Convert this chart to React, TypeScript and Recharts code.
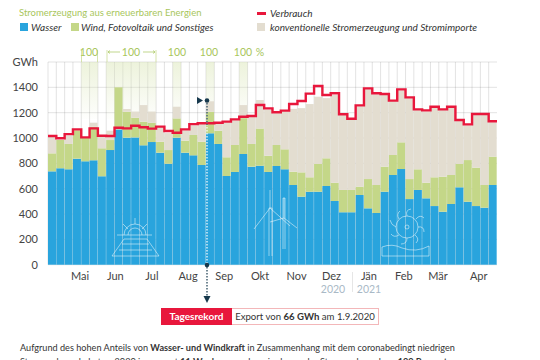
import {
  ComposedChart,
  Bar,
  Line,
  XAxis,
  YAxis,
  CartesianGrid,
  ReferenceArea,
} from 'recharts'

// weekly values in GWh, Apr 2020 - Apr 2021
const wasser = [737, 761, 753, 837, 816, 824, 698, 905, 1068, 1003, 1005, 942, 968, 884, 797, 1003, 884, 863, 787, 1037, 953, 700, 732, 874, 774, 782, 732, 779, 753, 629, 537, 576, 576, 621, 503, 414, 414, 550, 445, 408, 576, 708, 755, 518, 590, 524, 463, 418, 479, 611, 497, 463, 450, 629]
const wind = [142, 223, 200, 223, 184, 265, 221, 79, 332, 204, 155, 187, 152, 87, 108, 152, 95, 161, 184, 170, 105, 148, 213, 283, 179, 294, 128, 166, 158, 105, 192, 114, 219, 219, 144, 176, 176, 66, 231, 221, 198, 158, 211, 158, 163, 123, 227, 277, 229, 184, 329, 303, 179, 224]
const konventionell = [137, 1, 67, 0, 0, 32, 101, 74, 0, 22, 49, 131, 89, 119, 134, 92, 81, 76, 139, 83, 57, 277, 195, 103, 217, 224, 365, 250, 299, 496, 507, 578, 531, 475, 693, 590, 555, 634, 709, 716, 571, 424, 409, 639, 467, 563, 550, 525, 532, 340, 274, 416, 553, 272]
const verbrauch = [1016, 998, 1031, 1068, 1005, 1076, 1018, 1016, 1081, 1076, 1097, 1085, 1074, 1090, 1055, 1042, 1068, 1110, 1116, 1116, 1121, 1129, 1147, 1168, 1174, 1260, 1234, 1203, 1216, 1268, 1292, 1350, 1410, 1339, 1353, 1187, 1152, 1258, 1392, 1353, 1347, 1295, 1384, 1321, 1226, 1218, 1247, 1226, 1247, 1142, 1108, 1189, 1189, 1132]

const monthNames = ['Mai', 'Jun', 'Jul', 'Aug', 'Sep', 'Okt', 'Nov', 'Dez', 'Jän', 'Feb', 'Mär', 'Apr']
const monthCentres = [3.85, 8.1, 12.5, 16.85, 21.2, 25.5, 29.9, 34.1, 38.6, 42.8, 46.9, 51.8]
const monthStarts = [1.56, 5.98, 10.2, 14.7, 19.1, 23.4, 27.8, 32.1, 36.6, 40.9, 45, 49.4, 53.8]
const yTicks = [0, 200, 400, 600, 800, 1000, 1200, 1400, 1600]
// weeks with 100 % renewable supply
const fullWeeks = [4, 5, 7, 8, 9, 10, 11, 12, 15, 19, 23]
const weekLines = wasser.map((_, i) => i)

const rows = wasser.map((w, i) => ({
  week: i,
  x: i + 0.5,
  wasser: w,
  wind: wind[i],
  konv: konventionell[i],
}))
const steps = [...verbrauch, verbrauch[verbrauch.length - 1]].map((v, i) => ({ x: i, v }))

const BLUE = '#29a4dd'
const GREEN = '#c4d788'
const BEIGE = '#e3ddd0'
const RED = '#e8173c'
const TITLE_GREEN = '#a8c65c'
const FONT = 'Lato, sans-serif'

function label(x: number, y: number, text: string, color = TITLE_GREEN, size = 10.5) {
  return (
    <div style={{ position: 'absolute', left: x - 30, top: y, width: 60, textAlign: 'center', color, fontSize: size, lineHeight: '12px' }}>
      {text}
    </div>
  )
}

function swatch(x: number, y: number, color: string) {
  return <div style={{ position: 'absolute', left: x, top: y, width: 8, height: 8, background: color }} />
}

function legendText(x: number, y: number, text: string) {
  return (
    <div style={{ position: 'absolute', left: x, top: y, fontSize: 10, lineHeight: '12px', fontStyle: 'italic', color: '#333', whiteSpace: 'nowrap' }}>
      {text}
    </div>
  )
}

function Icons() {
  const c = 'rgba(255,255,255,0.5)'
  return (
    <svg width={540} height={360} style={{ position: 'absolute', left: 0, top: 0 }} fill="none" stroke={c} strokeWidth={1}>
      {/* solar panel */}
      <path d="M112 256 L159 256 L147 239 L124 239 Z M119 250 L152 250 M122 244 L149 244" />
      <path d="M117 235 L152 235 M124 235 A11 11 0 0 1 146 235 M128 235 A7 7 0 0 1 142 235" />
      <path d="M135 218 L135 224 M123 224 L128 229 M147 224 L142 229" />
      {/* wind turbines */}
      <path d="M269 256 L269 208 L272 208 L272 256 M270 208 L254 229 M270 208 L270 190 M270 208 L290 226" />
      <path d="M283 249 L283 198 L285 198 L285 249 M284 218 L270 222 M284 218 L297 228 M284 198 L284 218" />
      {/* water wheel */}
      <circle cx={407} cy={227} r={11} />
      <circle cx={407} cy={227} r={2} />
      <path d="M407 216 Q405 210 411 209 M416 219 Q420 214 424 218 M418 227 Q424 226 424 232 M415 235 Q420 239 416 243 M407 238 Q407 244 401 244 M399 235 Q394 238 391 234 M396 227 Q391 225 390 220 M399 219 Q396 214 400 211" />
      <path d="M382 256 L382 247 Q392 243 402 248 Q416 253 429 246 L429 256 Z" />
    </svg>
  )
}

function Annotation() {
  const dark = '#17394d'
  return (
    <svg width={540} height={360} style={{ position: 'absolute', left: 0, top: 0 }}>
      <line x1={207} y1={100} x2={207} y2={264} stroke="#fff" strokeWidth={1.2} strokeDasharray="1.5 1.5" />
      <line x1={207} y1={100} x2={207} y2={125} stroke={dark} strokeWidth={1.2} strokeDasharray="1.5 1.5" />
      <line x1={207} y1={264} x2={207} y2={296} stroke={dark} strokeWidth={1.2} strokeDasharray="1.5 1.5" />
      <circle cx={207} cy={100.5} r={2.3} fill={dark} />
      <circle cx={207} cy={265} r={2.3} fill={dark} />
      <path d="M197 97 L203 100.5 L197 104 Z" fill={dark} />
      <path d="M203.5 296 L210.5 296 L207 303 Z" fill={dark} />
      <path d="M81.5 50 L81.5 62 M97.5 50 L97.5 62 M107 50 L107 62 M156 50 L156 62" stroke={GREEN} strokeWidth={0.7} />
      <path d="M108 52 L120 52 M143 52 L155 52 M153 50.5 L155 52 L153 53.5 M110 50.5 L108 52 L110 53.5" stroke={TITLE_GREEN} strokeWidth={0.7} fill="none" />
    </svg>
  )
}

export default function App() {
  return (
    <div style={{ position: 'absolute', left: 0, top: 0, width: 540, height: 360, overflow: 'hidden', background: '#fff', fontFamily: FONT }}>
      <ComposedChart
        width={540}
        height={360}
        data={rows}
        barCategoryGap={0}
        barGap={0}
        margin={{ top: 62, right: 43, bottom: 75.3, left: 0 }}
      >
        <defs>
          <linearGradient id="fullWeek" x1="0" y1="0" x2="0" y2="1">
            <stop offset="0%" stopColor="#d9e5b4" stopOpacity={0.95} />
            <stop offset="100%" stopColor="#d9e5b4" stopOpacity={0.05} />
          </linearGradient>
        </defs>
        <XAxis xAxisId="weeks" dataKey="week" type="category" hide />
        <XAxis
          dataKey="x"
          type="number"
          domain={[0, 54]}
          ticks={monthStarts}
          tickFormatter={() => ''}
          tickSize={3}
          height={0}
          stroke="#333"
          allowDataOverflow
        />
        <XAxis
          xAxisId="labels"
          dataKey="x"
          type="number"
          domain={[0, 54]}
          ticks={monthCentres}
          tickFormatter={(v: number) => monthNames[monthCentres.indexOf(v)]}
          axisLine={false}
          tickLine={false}
          interval={0}
          height={20}
          tickMargin={1}
          tick={{ fontSize: 11, fill: '#444' }}
        />
        <YAxis
          type="number"
          domain={[0, 1600]}
          ticks={yTicks}
          tickFormatter={(v: number) => (v === 1600 ? 'GWh' : String(v))}
          axisLine={false}
          tickLine={false}
          width={48}
          tickMargin={4}
          interval={0}
          tick={{ fontSize: 11, fill: '#444' }}
        />
        {fullWeeks.map(w => (
          <ReferenceArea key={w} x1={w} x2={w + 1} y1={1150} y2={1600} fill="url(#fullWeek)" stroke="none" ifOverflow="hidden" />
        ))}
        <Bar xAxisId="weeks" dataKey="wasser" stackId="a" fill={BLUE} isAnimationActive={false} />
        <Bar xAxisId="weeks" dataKey="wind" stackId="a" fill={GREEN} isAnimationActive={false} />
        <Bar xAxisId="weeks" dataKey="konv" stackId="a" fill={BEIGE} isAnimationActive={false} />
        <CartesianGrid
          stroke="rgba(90,90,90,0.17)"
          strokeWidth={1}
          horizontalValues={yTicks}
          verticalValues={weekLines}
        />
        <Line
          data={steps}
          dataKey="v"
          type="stepAfter"
          stroke={RED}
          strokeWidth={2.4}
          strokeLinejoin="miter"
          dot={false}
          activeDot={false}
          isAnimationActive={false}
        />
      </ComposedChart>

      <Icons />
      <Annotation />

      <div style={{ position: 'absolute', left: 19, top: 7, fontSize: 9.5, lineHeight: '12px', color: TITLE_GREEN, whiteSpace: 'nowrap' }}>
        Stromerzeugung aus erneuerbaren Energien
      </div>
      {swatch(20, 23, BLUE)}
      {legendText(31, 21, 'Wasser')}
      {swatch(71, 23, GREEN)}
      {legendText(81, 21, 'Wind, Fotovoltaik und Sonstiges')}
      <div style={{ position: 'absolute', left: 257, top: 12, width: 9, height: 2.5, background: RED }} />
      {legendText(270, 7, 'Verbrauch')}
      {swatch(257, 23, BEIGE)}
      {legendText(270, 21, 'konventionelle Stromerzeugung und Stromimporte')}

      {label(89, 46, '100')}
      {label(131, 46, '100')}
      {label(177, 46, '100')}
      {label(209, 46, '100')}
      {label(243, 46, '100')}
      {label(260, 46, '%')}

      {label(333, 283, '2020', '#a9b9c6')}
      {label(369, 283, '2021', '#a9b9c6')}
      <div style={{ position: 'absolute', left: 352, top: 272, width: 1, height: 20, background: '#e6e6e6' }} />

      <div style={{ position: 'absolute', left: 161, top: 308, width: 71, height: 17, background: RED, color: '#fff', fontSize: 10, fontWeight: 700, lineHeight: '17px', textAlign: 'center' }}>
        Tagesrekord
      </div>
      <div style={{ position: 'absolute', left: 232, top: 308, width: 146, height: 15, border: '1px solid #f3b7b9', borderLeft: 'none', color: '#333', fontSize: 9.6, lineHeight: '15px', textAlign: 'center', whiteSpace: 'nowrap' }}>
        Export von <b>66 GWh</b> am 1.9.2020
      </div>

      <div style={{ position: 'absolute', left: 20, top: 341, width: 510, color: '#333', fontSize: 9.15, lineHeight: '14px', whiteSpace: 'nowrap' }}>
        Aufgrund des hohen Anteils von <b>Wasser- und Windkraft</b> in Zusammenhang mit dem coronabedingt niedrigen
        <br />
        Stromverbrauch, hat es 2020 insgesamt <b>11 Wochen</b> gegeben, in denen der Stromverbrauch zu <b>100 Prozent</b> aus
      </div>
    </div>
  )
}
